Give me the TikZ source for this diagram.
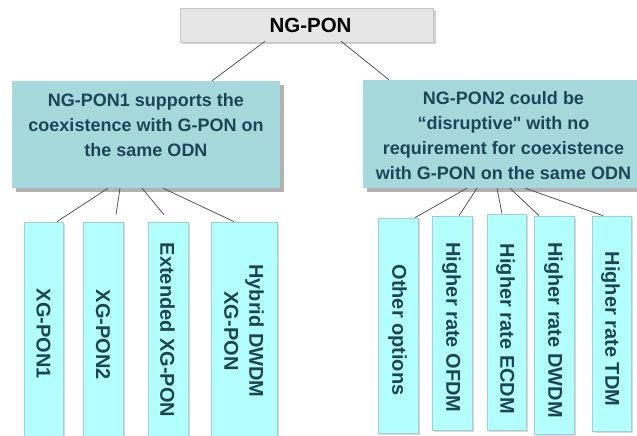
\documentclass[tikz,border=0pt]{standalone}
\usepackage{fontspec}
\setmainfont{Liberation Sans}
\usetikzlibrary{shadows}
\definecolor{headfill}{HTML}{E6E6E6}
\definecolor{headline}{HTML}{C4C4C4}
\definecolor{groupfill}{HTML}{A5D9DC}
\definecolor{leaffill}{HTML}{B3FFFF}
\definecolor{leafline}{HTML}{A2CFD0}
\definecolor{inktext}{HTML}{1E4557}
\definecolor{wire}{HTML}{555555}
\tikzset{
  box/.style={rectangle, inner sep=0pt, anchor=center},
  headbox/.style={box, fill=headfill, draw=headline, line width=0.6pt,
    drop shadow={shadow xshift=2.5pt, shadow yshift=-2.5pt, fill=black!18, opacity=1}},
  groupbox/.style={box, fill=groupfill,
    drop shadow={shadow xshift=3.5pt, shadow yshift=-3.5pt, fill=black!30, opacity=1}},
  leafbox/.style={box, fill=leaffill, draw=leafline, line width=0.7pt,
    drop shadow={shadow xshift=1.5pt, shadow yshift=-1.5pt, fill=black!15, opacity=1}},
  grouptext/.style={align=center, text=inktext, inner sep=0pt,
    font=\fontsize{18}{25}\selectfont\bfseries},
  vtext/.style={rotate=-90, align=center, text=inktext, inner sep=0pt,
    font=\fontsize{20}{25}\selectfont\bfseries},
  wire/.style={draw=wire, line width=0.8pt},
}
\begin{document}
\begin{tikzpicture}[x=1pt, y=-1pt]
\useasboundingbox (0,0) rectangle (637,436);

% root
\node[headbox, minimum width=253pt, minimum height=34pt] (top) at (306.5,25) {};
\node[inner sep=0pt, font=\fontsize{20.5}{24}\selectfont\bfseries] (toptext) at (310.5,25.5) {NG-PON};

% second level
\node[groupbox, minimum width=268pt, minimum height=107pt] (L) at (146,134.5) {};
\node[grouptext] (Ltext) at (146,125) {NG-PON1 supports the\\coexistence with G-PON on\\the same ODN};
\node[groupbox, minimum width=281pt, minimum height=108pt] (R) at (503.5,134) {};
\node[grouptext] (Rtext) at (503.5,136) {NG-PON2 could be\\“disruptive\textquotedbl{} with no\\requirement for coexistence\\with G-PON on the same ODN};

% leaves under NG-PON1
\node[leafbox, minimum width=39pt, minimum height=218pt] (a1) at (43.5,331) {};
\node[leafbox, minimum width=40pt, minimum height=218pt] (a2) at (103,331) {};
\node[leafbox, minimum width=40pt, minimum height=218pt] (a3) at (168,331) {};
\node[leafbox, minimum width=66pt, minimum height=218pt] (a4) at (244,331) {};
\node[vtext] (ta1) at (43.5,334) {XG-PON1};
\node[vtext] (ta2) at (103,335) {XG-PON2};
\node[vtext] (ta3) at (167.5,330) {Extended XG-PON};
\node[vtext] (ta4) at (244,331) {Hybrid DWDM\\XG-PON};

% leaves under NG-PON2
\node[leafbox, minimum width=40pt, minimum height=215pt] (b1) at (398,325.5) {};
\node[leafbox, minimum width=40pt, minimum height=214pt] (b2) at (452,323) {};
\node[leafbox, minimum width=39pt, minimum height=216pt] (b3) at (506.5,322) {};
\node[leafbox, minimum width=40pt, minimum height=218pt] (b4) at (554,325) {};
\node[leafbox, minimum width=39pt, minimum height=215pt] (b5) at (611.5,323.5) {};
\node[vtext] (tb1) at (397.5,330) {Other options};
\node[vtext] (tb2) at (451.5,327.5) {Higher rate OFDM};
\node[vtext] (tb3) at (505.5,329) {Higher rate ECDM};
\node[vtext] (tb4) at (553.5,330) {Higher rate DWDM};
\node[vtext] (tb5) at (610.5,329) {Higher rate TDM};

% connectors
\draw[wire] ([xshift=-41.5pt,yshift=1pt]top.south) -- ([xshift=66pt]L.north);
\draw[wire] ([xshift=34.5pt,yshift=1pt]top.south) -- ([xshift=-114.5pt]R.north);

\draw[wire] ([xshift=-38pt]L.south) -- ([xshift=13.5pt]a1.north);
\draw[wire] ([xshift=-26pt]L.south) -- ([xshift=13pt,yshift=7pt]a2.north);
\draw[wire] ([xshift=-4pt]L.south) -- ([xshift=-4pt,yshift=7pt]a3.north);
\draw[wire] ([xshift=17pt]L.south) -- ([xshift=-10pt]a4.north);

\draw[wire] ([xshift=-36.5pt]R.south) -- ([xshift=17pt]b1.north);
\draw[wire] ([xshift=-26.5pt]R.south) -- ([xshift=7pt]b2.north);
\draw[wire] ([xshift=-6.5pt]R.south) -- ([xshift=-4.5pt]b3.north);
\draw[wire] ([xshift=6.5pt]R.south) -- ([xshift=-15pt]b4.north);
\draw[wire] ([xshift=21.5pt]R.south) -- ([xshift=-8.5pt]b5.north);
\end{tikzpicture}
\end{document}
